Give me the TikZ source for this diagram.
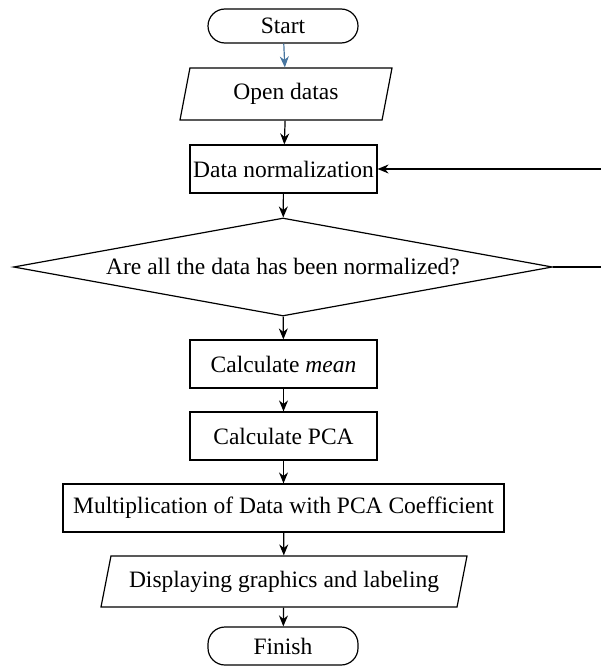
\documentclass[tikz,border=0pt]{standalone}
\usepackage{fontspec}
\setmainfont{Liberation Serif}
\usepackage{tikz}
\usetikzlibrary{arrows.meta}
\usetikzlibrary{shapes.geometric}
\definecolor{startblue}{RGB}{72,118,160}

\begin{document}
\begin{tikzpicture}[x=1pt,y=-1pt,line width=1.2pt,every node/.style={draw,inner sep=0pt,font=\fontsize{23.5}{27}\selectfont},
	terminal/.style={rectangle,rounded corners=17pt,minimum width=150pt},
	process/.style={rectangle,minimum height=48pt},
	inout/.style={trapezium,trapezium left angle=65,trapezium right angle=115,trapezium stretches body},
	decision/.style={diamond,aspect=5.5,minimum width=539pt,minimum height=98pt},
	flow/.style={-{Stealth[length=11pt,width=9pt]}}]
	
	\useasboundingbox (0,0) rectangle (600,666);
	
	\node[terminal,minimum height=34pt] (start) at (283,26) {Start};
	\node[inout,minimum width=212pt,minimum height=52pt] (open) at (286,94) {Open datas};
	\node[process,minimum width=187pt] (norm) at (283.5,169) {Data normalization};
	\node[decision] (check) at (283,267) {Are all the data has been normalized?};
	\node[process,minimum width=187pt] (mean) at (283.5,364) {Calculate \textit{mean}};
	\node[process,minimum width=187pt] (pca) at (283.5,436) {Calculate PCA};
	\node[process,minimum width=441pt] (mult) at (283.5,508) {Multiplication of Data with PCA Coefficient};
	\node[inout,minimum width=366pt,minimum height=51pt] (show) at (284,581.5) {Displaying graphics and labeling};
	\node[terminal,minimum height=38pt] (finish) at (283,646) {Finish};
	
	\coordinate (loopA) at (603,267);
	\coordinate (loopB) at (603,169);
	
	\draw[flow,startblue] (start) -- (open);
	\draw[flow] (open) -- (norm);
	\draw[flow] (norm) -- (check);
	\draw[flow] (check) -- (mean);
	\draw[flow] (mean) -- (pca);
	\draw[flow] (pca) -- (mult);
	\draw[flow] (mult) -- (show);
	\draw[flow] (show) -- (finish);
	\draw[flow] (check.east) -- (loopA) -- (loopB) -- (norm.east);
	
\end{tikzpicture}
\end{document}
